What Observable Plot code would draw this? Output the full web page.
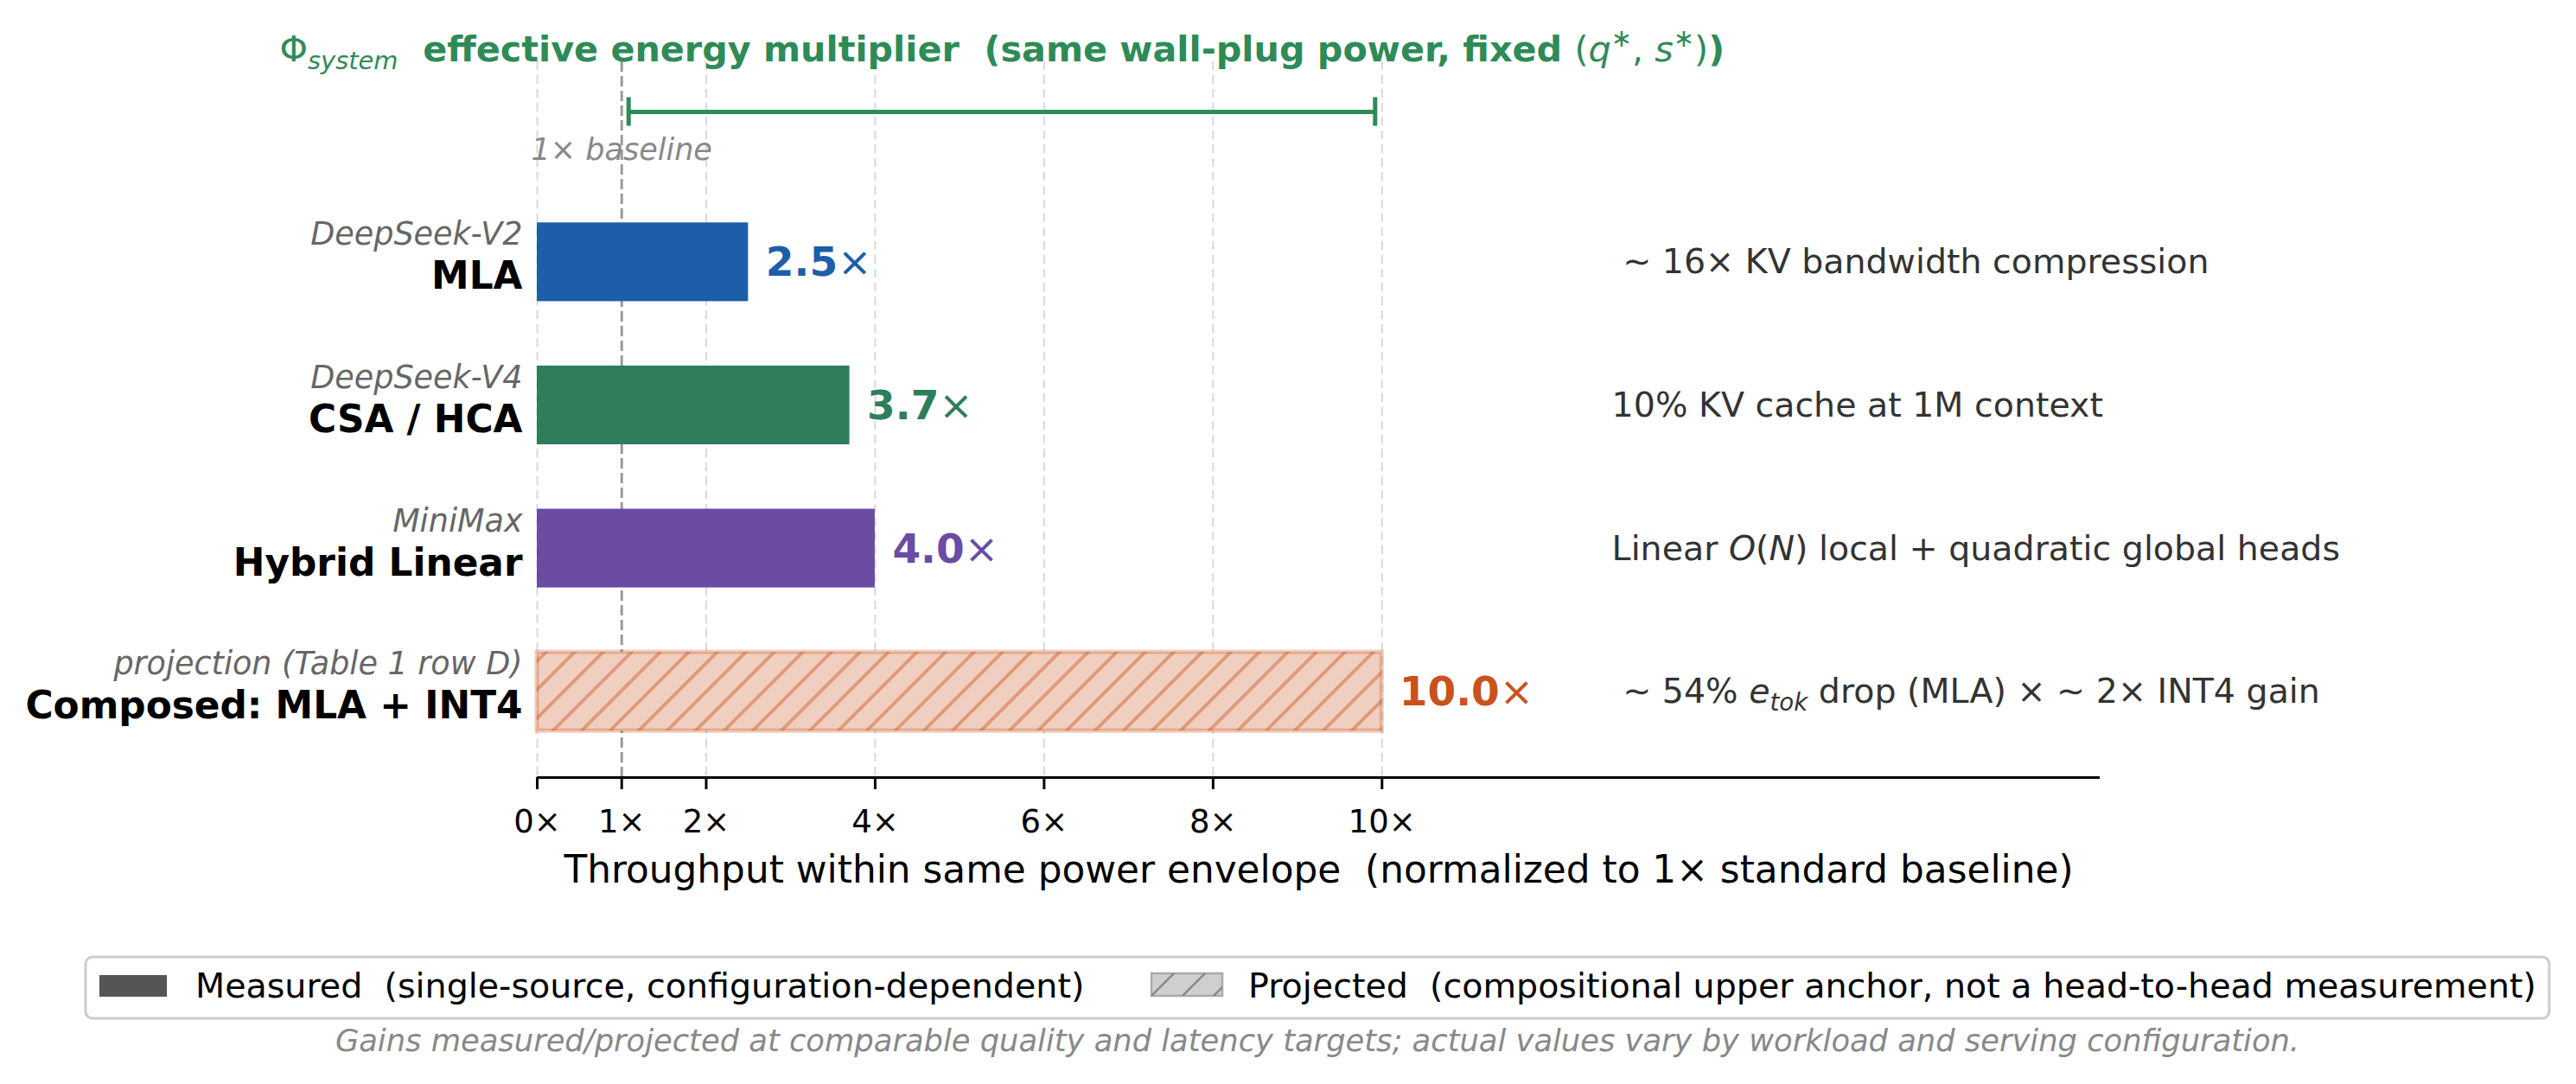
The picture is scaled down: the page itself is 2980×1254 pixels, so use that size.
<!DOCTYPE html>
<html><head><meta charset="utf-8">
<script src="https://cdn.jsdelivr.net/npm/d3@7"></script>
<script src="https://cdn.jsdelivr.net/npm/@observablehq/plot@0.6"></script>
<style>
body{margin:0;background:#fff;}
#chart svg text{white-space:pre;}
</style></head><body><div id="chart"></div>
<script>
// ---- data ----
const methods = ["MLA", "CSA / HCA", "Hybrid Linear", "Composed: MLA + INT4"];
const sources = ["DeepSeek-V2", "DeepSeek-V4", "MiniMax", "projection (Table 1 row D)"];
const gains = [2.5, 3.7, 4.0, 10.0];
const kinds = ["measured", "measured", "measured", "projected"];
const barColors = ["#1d5ea8", "#2e7d5b", "#6a4ca3", "#f0cfc0"];
const labelColors = ["#1d5ea8", "#2e7d5b", "#6a4ca3", "#c9521d"];
const notes = [
  " ∼ 16× KV bandwidth compression",
  "10% KV cache at 1M context",
  "Linear *O*(*N*) local + quadratic global heads",
  " ∼ 54% *e*_{tok} drop (MLA) × ∼ 2× INT4 gain"
];
const xTicks = [0, 1, 2, 4, 6, 8, 10];
const gridTicks = [0, 2, 4, 6, 8, 10];
const xDomain = [0, 18.5];
const yDomain = [-1.4, 3.6];
const baseline = 1;
const baselineLabel = "1× baseline";
const baselineLabelY = -0.78;
const envelope = [1, 10];
const envelopeY = -1.05;
const noteX = 12.72;
const barHalf = 0.275;
const titleText = "!Φ!_{system}  effective energy multiplier  (same wall-plug power, fixed !(!*q*^{∗}!, !*s*^{∗}!)!)";
const xLabel = "Throughput within same power envelope  (normalized to 1× standard baseline)";
const legendItems = [
  {label: "Measured  (single-source, configuration-dependent)", kind: "measured"},
  {label: "Projected  (compositional upper anchor, not a head-to-head measurement)", kind: "projected"}
];
const caption = "Gains measured/projected at comparable quality and latency targets; actual values vary by workload and serving configuration.";

const rows = methods.map((m, i) => ({
  row: i, method: m, source: sources[i], gain: gains[i], kind: kinds[i],
  color: barColors[i], labelColor: labelColors[i], note: notes[i],
  valueText: `${gains[i].toFixed(1)}!×!`
}));
const measured = rows.filter(d => d.kind === "measured");
const projected = rows.filter(d => d.kind === "projected");

const GREEN = "#2e8b57";

function extras() {
  const g = d3.create("svg:g");
  const defs = g.append("defs");
  const p = defs.append("pattern").attr("id", "hatch").attr("patternUnits", "userSpaceOnUse")
    .attr("width", 33).attr("height", 33);
  p.append("path").attr("d", "M-8,8 L8,-8 M0,33 L33,0 M25,41 L41,25")
    .attr("stroke", "#c9521d").attr("stroke-opacity", 0.42).attr("stroke-width", 4);
  const p2 = defs.append("pattern").attr("id", "hatchGray").attr("patternUnits", "userSpaceOnUse")
    .attr("width", 36).attr("height", 36);
  p2.append("path").attr("d", "M-9,9 L9,-9 M0,36 L36,0 M27,45 L45,27")
    .attr("stroke", "#888").attr("stroke-width", 2.5);

  // legend
  const L = g.append("g").attr("font-family", "DejaVu Sans").attr("font-size", 39.6).attr("text-anchor", "start");
  L.append("rect").attr("x", 99).attr("y", 1107).attr("width", 2850).attr("height", 71)
    .attr("rx", 8).attr("fill", "#fff").attr("stroke", "#cccccc").attr("stroke-width", 3);
  const pos = [{px: 115, tx: 226}, {px: 1332, tx: 1444}];
  legendItems.forEach((it, i) => {
    if (it.kind === "measured") {
      L.append("rect").attr("x", pos[i].px).attr("y", 1128).attr("width", 78).attr("height", 25).attr("fill", "#555");
    } else {
      L.append("rect").attr("x", pos[i].px).attr("y", 1126).attr("width", 82).attr("height", 26)
        .attr("fill", "#cfcfcf").attr("stroke", "#aaa").attr("stroke-width", 2.5);
      L.append("rect").attr("x", pos[i].px).attr("y", 1126).attr("width", 82).attr("height", 26)
        .attr("fill", "url(#hatchGray)");
    }
    L.append("text").attr("x", pos[i].tx).attr("y", 1154).attr("fill", "#000")
      .attr("text-anchor", "start").style("white-space", "pre").text(it.label);
  });
  g.append("text").attr("x", 1524).attr("y", 1216).attr("text-anchor", "middle")
    .attr("font-family", "DejaVu Sans").attr("font-size", 35.3).attr("font-style", "italic")
    .attr("fill", "#888").text(caption);
  return g.node();
}

const chart = Plot.plot({
  width: 2980, height: 1254,
  marginLeft: 621, marginRight: 551, marginTop: 71, marginBottom: 355,
  style: {fontFamily: "DejaVu Sans", fontSize: "37px", background: "#fff", color: "#000"},
  x: {domain: xDomain},
  y: {domain: yDomain, reverse: true, axis: null},
  color: {type: "identity"},
  marks: [
    extras,
    Plot.ruleX(gridTicks, {x: d => d, y1: yDomain[0], y2: yDomain[1], stroke: "#d9d9d9", strokeWidth: 2, strokeDasharray: "10,6"}),
    Plot.ruleX([baseline], {x: d => d, y1: yDomain[0], y2: yDomain[1], stroke: "#9a9a9a", strokeWidth: 3, strokeDasharray: "12,5"}),
    Plot.rect(measured, {x1: 0, x2: "gain", y1: d => d.row - barHalf, y2: d => d.row + barHalf, fill: "color"}),
    Plot.rect(projected, {x1: 0, x2: "gain", y1: d => d.row - barHalf, y2: d => d.row + barHalf, fill: "color", stroke: "#c9521d", strokeOpacity: 0.3, strokeWidth: 5}),
    Plot.rect(projected, {x1: 0, x2: "gain", y1: d => d.row - barHalf, y2: d => d.row + barHalf, fill: "url(#hatch)"}),
    Plot.ruleY([yDomain[1]], {y: d => d, x1: xDomain[0], x2: xDomain[1], stroke: "#000", strokeWidth: 3}),
    Plot.axisX({ticks: xTicks, tickFormat: d => `${d}×`, tickSize: 14, tickPadding: 23, fontSize: 37, strokeWidth: 3, label: null, fill: "#000", stroke: "#000"}),
    Plot.text([xLabel], {frameAnchor: "bottom", text: d => d, dy: 121, lineAnchor: "bottom", fontSize: 43.8, fill: "#000"}),
    // envelope bar
    Plot.ruleY([envelopeY], {y: d => d, x1: envelope[0], x2: envelope[1], insetLeft: 8, insetRight: 8, stroke: GREEN, strokeWidth: 5}),
    Plot.ruleX([envelope[0]], {x: d => d, y1: envelopeY - 0.1, y2: envelopeY + 0.1, dx: 8, stroke: GREEN, strokeWidth: 5}),
    Plot.ruleX([envelope[1]], {x: d => d, y1: envelopeY - 0.1, y2: envelopeY + 0.1, dx: -8, stroke: GREEN, strokeWidth: 5}),
    Plot.text([baselineLabel], {x: baseline, y: baselineLabelY, text: d => d, fontStyle: "italic", fill: "#888", fontSize: 35, textAnchor: "middle"}),
    // category labels
    Plot.text(rows, {x: 0, y: "row", text: "source", dx: -17, dy: -20, textAnchor: "end", lineAnchor: "bottom", fontStyle: "italic", fill: "#666", fontSize: 36.5}),
    Plot.text(rows, {x: 0, y: "row", text: "method", dx: -17, dy: 31, textAnchor: "end", lineAnchor: "bottom", fontWeight: "bold", fill: "#000", fontSize: 43.8}),
    // value labels
    Plot.text(rows, {x: "gain", y: "row", text: "valueText", fill: "labelColor", dx: 20, dy: 16, textAnchor: "start", lineAnchor: "bottom", fontWeight: "bold", fontSize: 47}),
    // notes
    Plot.text(rows, {x: noteX, y: "row", text: "note", dy: 13, textAnchor: "start", lineAnchor: "bottom", fill: "#333", fontSize: 39.5}),
    // title
    Plot.text([titleText], {frameAnchor: "top-left", text: d => d, dx: -298, dy: -1, textAnchor: "start", lineAnchor: "bottom", fill: GREEN, fontWeight: "bold", fontSize: 41.3})
  ]
});

document.getElementById("chart").appendChild(chart);

// rich text markup: *italic*, _{sub}, ^{sup}, !normal weight!
const RICH = /(\*[^*]+\*|_\{[^}]*\}|\^\{[^}]*\}|![^!]+!)/g;
function applyRich(el) {
  const fs = parseFloat(getComputedStyle(el).fontSize) || 37;
  const src = el.textContent;
  const sel = d3.select(el);
  sel.text(null);
  const parts = src.split(RICH).filter(s => s !== "");
  let shift = 0;
  for (const p of parts) {
    let t = p, st = {}, ns = 0;
    if (/^\*[^*]+\*$/.test(p)) { t = p.slice(1, -1); st = {"font-style": "italic", "font-weight": "normal"}; }
    else if (p.startsWith("_{")) { t = p.slice(2, -1); st = {"font-style": "italic", "font-weight": "normal", "font-size": (0.7 * fs) + "px"}; ns = 0.22 * fs; }
    else if (p.startsWith("^{")) { t = p.slice(2, -1); st = {"font-weight": "normal", "font-size": (0.7 * fs) + "px"}; ns = -0.4 * fs; }
    else if (/^![^!]+!$/.test(p)) { t = p.slice(1, -1); st = {"font-weight": "normal"}; }
    const ts = sel.append("tspan").text(t);
    if (ns - shift !== 0) ts.attr("dy", ns - shift);
    shift = ns;
    for (const k in st) ts.style(k, st[k]);
  }
}
d3.select(chart).selectAll("text").each(function() {
  if (this.querySelector("tspan")) return;
  const s = this.textContent;
  if (/\*[^*]+\*|_\{|\^\{|![^!]+!/.test(s)) applyRich(this);
});
</script>
</body></html>
